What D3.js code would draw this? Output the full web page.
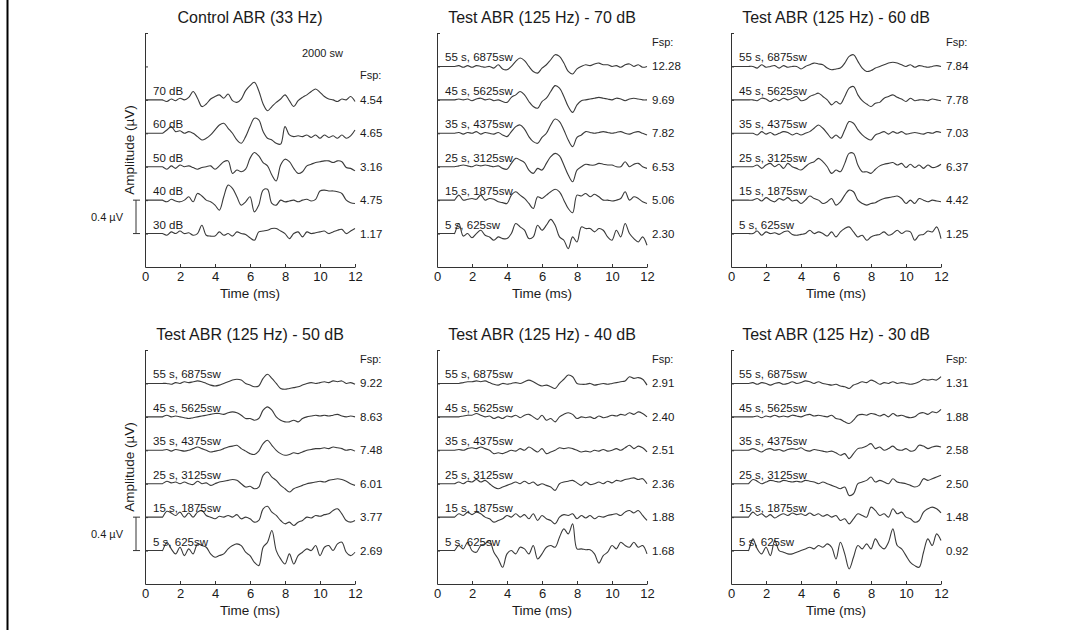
<!DOCTYPE html>
<html>
<head>
<meta charset="utf-8">
<script src="https://cdn.jsdelivr.net/npm/d3@7"></script>
<style>
  body { margin: 0; background: #fff; }
  svg { font-family: "Liberation Sans", Arial, sans-serif; }
</style>
</head>
<body>
<svg id="canvas" width="1073" height="630"></svg>
<script>
// sample times (ms) of every recorded trace, the trace is flat before 1 ms
let sampleTimes = [1, 1.25, 1.5, 1.75, 2, 2.25, 2.5, 2.75, 3, 3.25, 3.5, 3.75,
  4, 4.25, 4.5, 4.75, 5, 5.25, 5.5, 5.75, 6, 6.25, 6.5, 6.75,
  7, 7.25, 7.5, 7.75, 8, 8.25, 8.5, 8.75, 9, 9.25, 9.5, 9.75,
  10, 10.25, 10.5, 10.75, 11, 11.25, 11.5, 11.75, 12];

let xTicks = [0, 2, 4, 6, 8, 10, 12];
let yTicks = [0.4, 0.8, 1.2, 1.6, 2.0, 2.4, 2.8];

let panelTitles = ['Control ABR (33 Hz)', 'Test ABR (125 Hz) - 70 dB', 'Test ABR (125 Hz) - 60 dB',
  'Test ABR (125 Hz) - 50 dB', 'Test ABR (125 Hz) - 40 dB', 'Test ABR (125 Hz) - 30 dB'];

let controlLabels = ['70 dB', '60 dB', '50 dB', '40 dB', '30 dB'];
let testLabels = ['55 s, 6875sw', '45 s, 5625sw', '35 s, 4375sw', '25 s, 3125sw', '15 s, 1875sw', '5 s, 625sw'];

// Fsp values, top trace first
let fspControl = ['4.54', '4.65', '3.16', '4.75', '1.17'];
let fsp70 = ['12.28', '9.69', '7.82', '6.53', '5.06', '2.30'];
let fsp60 = ['7.84', '7.78', '7.03', '6.37', '4.42', '1.25'];
let fsp50 = ['9.22', '8.63', '7.48', '6.01', '3.77', '2.69'];
let fsp40 = ['2.91', '2.40', '2.51', '2.36', '1.88', '1.68'];
let fsp30 = ['1.31', '1.88', '2.58', '2.50', '1.48', '0.92'];

// amplitudes (uV) around each trace's own baseline, one value per sample time
let control33 = [
  [0, -.02, .01, -.01, .02, 0, .03, .10, .02, -.08, -.05, .01,
   .04, .06, .02, .07, -.01, -.03, .01, .11, .17, .21, .11, -.05,
   -.13, -.08, -.03, .01, .06, -.01, -.08, -.01, .03, .06, .10, .13,
   .09, .04, .01, 0, -.02, .01, 0, .04, -.02],
  [0, .04, .08, .02, .03, 0, .02, 0, -.04, -.08, -.06, -.02,
   .04, .10, .12, .06, 0, -.08, -.12, -.04, .08, .18, .16, .02,
   -.06, -.08, -.12, -.13, .08, -.02, -.04, -.03, -.04, -.02, -.05, -.02,
   -.06, -.02, -.05, -.03, -.06, -.02, -.06, -.03, .04],
  [0, -.03, .01, -.02, .02, 0, .01, -.01, -.03, -.01, 0, .01,
   -.03, .01, .06, .07, -.08, -.04, -.06, -.03, .10, .17, .13, .05,
   .01, -.10, -.17, .02, .09, .06, -.02, -.08, -.06, .01, .03, .05,
   .06, .07, .07, .05, .07, .06, -.01, -.02, -.05],
  [0, -.02, .01, -.01, -.02, 0, .04, -.02, .08, .05, 0, -.02,
   -.06, -.12, .04, .18, .14, .04, -.06, -.02, .04, -.14, -.06, .12,
   .13, -.04, -.06, 0, -.02, -.01, 0, -.02, 0, .01, -.01, .01,
   .11, .12, .11, .11, .10, .08, 0, -.03, -.04],
  [0, -.02, .02, 0, .03, 0, .01, -.02, 0, .10, -.02, -.03,
   -.03, .02, -.02, 0, -.03, .02, 0, -.01, -.05, -.08, .02, .03,
   .04, .06, .06, .03, 0, -.06, 0, .02, -.04, .02, 0, .01,
   .02, .03, 0, .02, .04, .05, 0, .03, .06]
];

let test70 = [
  [0, .01, -.01, .01, -.01, .01, 0, -.01, 0, -.02, .02, -.03,
   -.04, 0, .06, .10, .07, 0, -.06, -.08, -.02, .02, .08, .14,
   .12, .04, -.06, -.09, -.03, 0, .02, .01, .03, .04, .02, .02,
   0, .01, -.01, .02, .03, 0, .02, -.01, 0],
  [0, .01, 0, .01, -.01, .01, .02, 0, .01, -.01, 0, -.02,
   -.03, .03, .06, .10, .06, -.02, -.08, -.10, -.02, .02, .10, .17,
   .14, .04, -.08, -.15, -.06, -.01, 0, .01, .02, .03, .02, .01,
   0, .02, .01, -.01, .01, .02, .01, 0, 0],
  [0, .01, -.01, .01, 0, .02, -.01, .01, 0, -.01, .01, -.02,
   -.04, .02, .08, .10, .05, -.04, -.10, -.12, -.05, 0, .10, .17,
   .14, .04, -.08, -.16, -.05, -.02, .02, .01, 0, .01, .02, .01,
   0, .01, .02, 0, -.01, .01, .02, 0, -.02],
  [0, .01, .02, .01, 0, .02, .01, .02, .01, 0, .01, -.02,
   -.03, .04, .10, .08, .05, -.04, -.08, -.02, -.04, .04, .12, .16,
   .13, .02, -.10, -.18, -.04, 0, .03, .02, .02, .04, .03, .02,
   .02, 0, 0, .06, 0, .03, .04, 0, -.02],
  [0, .06, 0, .01, .02, .01, .06, 0, .02, .01, -.02, -.03,
   -.04, .06, .10, .06, .02, -.04, -.10, .04, .02, .06, .10, .13,
   .10, 0, -.10, -.15, .06, .05, .08, .04, .07, .04, 0, 0,
   -.01, 0, .02, .10, 0, .04, .02, -.02, -.04],
  [0, .12, -.03, 0, -.05, 0, .04, -.02, -.04, -.08, -.04, -.06,
   -.06, 0, .12, .08, .04, -.06, -.04, .10, .04, .10, .17, .10,
   -.04, -.08, -.18, -.04, -.10, .08, .06, .06, .02, .06, .04, -.04,
   -.08, .04, -.04, .12, 0, -.06, -.10, -.04, -.14]
];

let test60 = [
  [0, 0, -.02, .02, -.01, 0, .01, -.02, .01, -.01, 0, 0,
   -.03, 0, .02, .04, .03, .02, -.02, -.04, -.03, -.02, .04, .12,
   .14, .06, -.02, -.06, -.05, -.02, 0, .02, .04, .05, .04, .02,
   0, .02, -.01, .01, 0, -.01, 0, .01, 0],
  [0, 0, -.01, .02, .01, -.02, .01, -.01, .02, 0, .02, .04,
   -.01, 0, .04, .06, .08, .04, 0, -.06, -.02, -.05, .04, .14,
   .16, .06, -.01, -.05, -.08, -.04, -.03, .02, .04, .06, .03, .01,
   -.02, .02, -.01, 0, 0, -.01, .01, 0, -.01],
  [0, 0, -.02, .02, -.01, .01, -.02, 0, .02, .01, -.02, 0,
   -.02, 0, .02, .06, .10, .06, 0, -.06, -.02, -.06, .04, .14,
   .12, .04, -.02, -.06, -.08, -.02, 0, .02, -.01, .02, 0, .02,
   -.01, 0, .01, 0, -.01, .01, 0, .02, .01],
  [0, 0, .02, -.02, .02, .04, 0, .03, -.02, .04, 0, -.02,
   -.04, 0, .04, .06, .10, .06, 0, -.08, -.04, -.06, .04, .16,
   .16, .02, -.06, -.06, -.08, -.03, .01, .03, .04, .05, .02, .04,
   -.01, .03, -.01, .02, -.02, .02, -.01, 0, .03],
  [0, 0, .02, -.01, .03, 0, -.02, .02, 0, .03, -.01, 0,
   -.04, 0, .05, .02, 0, -.04, -.02, .02, -.06, -.02, .06, .12,
   .10, 0, -.04, -.06, -.04, -.03, 0, .02, .03, .04, .05, .02,
   -.04, 0, -.04, .02, 0, -.02, 0, -.01, -.02],
  [0, 0, .03, -.02, .02, 0, .01, -.01, .02, .03, -.01, -.02,
   -.01, 0, .04, 0, .02, 0, -.03, .02, -.04, .02, .06, .08,
   .02, -.04, -.02, -.08, -.04, -.02, -.01, .02, -.02, 0, .04, 0,
   .03, .02, -.08, -.02, -.01, .03, .02, .08, -.06]
];

let test50 = [
  [0, 0, -.01, .01, 0, .02, .01, .02, .03, .02, 0, -.02,
   -.03, -.02, 0, .02, .04, .05, .04, 0, -.02, -.04, -.03, .06,
   .11, .06, 0, -.06, -.07, -.06, -.05, -.04, -.02, 0, .01, 0,
   .01, .02, .01, .03, .02, .03, 0, .01, -.01],
  [0, .02, 0, .01, 0, -.01, -.02, -.01, 0, .01, .02, .03,
   .04, .04, .03, .05, .06, .05, .02, -.02, -.02, -.04, -.02, .08,
   .12, .08, 0, -.04, -.06, -.06, -.04, -.06, -.02, 0, .01, .02,
   .01, .02, .01, .02, .03, .01, 0, .01, 0],
  [0, .01, -.01, .01, 0, -.01, 0, .02, .04, .02, 0, -.02,
   -.01, 0, .02, .04, .05, .06, .02, -.01, -.04, -.05, -.01, .08,
   .12, .06, 0, -.04, -.06, -.05, -.03, -.04, -.02, 0, .01, .02,
   .02, .03, .02, .04, .03, .02, 0, .01, -.01],
  [0, .03, .01, .02, 0, .02, 0, -.01, .03, 0, .01, -.02,
   0, .02, .03, .04, .05, .04, 0, -.04, -.03, -.06, -.04, .10,
   .14, .08, .04, -.02, -.06, -.10, -.06, -.04, -.02, 0, .01, .02,
   .03, .02, .04, .05, .06, .05, .03, 0, -.02],
  [0, .07, .05, .02, .06, 0, .05, 0, .06, .08, .02, 0,
   -.02, .01, 0, .02, 0, .03, -.02, 0, -.02, -.06, -.04, .10,
   .13, .06, .02, -.04, -.08, -.06, -.10, -.06, -.04, 0, -.01, .02,
   .01, .03, .04, .08, .10, .04, -.04, -.06, -.04],
  [0, .10, .02, -.04, .04, -.06, .02, -.04, .08, .06, .04, -.04,
   -.08, -.06, -.04, .02, .06, .08, .06, -.02, -.06, -.14, -.18, .04,
   .10, .24, 0, -.10, -.16, -.04, -.16, -.06, -.02, .02, 0, .06,
   -.06, .04, .06, 0, .08, .10, -.02, -.06, -.02]
];

let test40 = [
  [0, 0, .01, .02, .02, .03, .02, .03, .01, -.01, -.02, 0,
   -.01, 0, .01, 0, .02, .04, .02, -.01, -.03, -.02, -.04, -.06,
   0, .05, .10, .08, 0, -.01, -.01, 0, -.02, -.01, 0, -.01,
   0, .01, .02, .03, .08, .06, .07, .05, -.02],
  [0, 0, .01, .02, .02, .04, .02, 0, .01, -.02, 0, -.02,
   .01, 0, .02, -.01, .02, .03, 0, -.03, .02, -.04, -.02, -.06,
   0, .03, .05, .03, -.02, 0, -.01, 0, -.02, .01, -.01, 0,
   .02, .01, .03, .02, .05, .03, .06, .04, 0],
  [0, .01, 0, .02, .03, .02, .04, .02, 0, -.04, -.03, -.04,
   -.02, 0, -.01, .02, 0, .04, .01, -.02, .02, -.04, -.02, 0,
   .03, .02, .03, .02, 0, -.02, -.01, -.02, 0, -.01, .01, -.01,
   0, .02, 0, .03, .06, .02, .05, .03, -.02],
  [0, .02, 0, .03, .02, .05, .02, .04, 0, -.04, -.06, -.04,
   -.02, 0, .02, 0, .03, 0, .02, -.02, 0, -.02, -.04, -.08,
   0, .02, .03, .04, .01, -.02, .02, -.01, 0, .02, 0, .03,
   .01, .04, .03, .05, .06, .07, .05, .06, 0],
  [0, .04, .02, .06, .03, .06, .04, 0, -.02, -.06, -.04, -.02,
   .02, 0, .04, 0, .03, -.02, .04, -.04, .02, -.02, -.04, -.08,
   0, .03, .02, .04, -.02, .02, -.01, .02, -.02, .01, 0, .02,
   .03, .04, .02, .06, .08, .05, .08, .02, -.04],
  [0, .06, .02, .10, 0, -.02, .06, .08, .12, -.02, -.10, -.20,
   -.04, 0, -.04, .04, .02, -.04, .06, -.10, -.04, .04, .06, .04,
   .16, .26, .20, .32, .02, .02, .01, .01, -.04, -.15, -.06, -.02,
   .06, .02, .10, .06, .04, .10, .04, .06, -.04]
];

let test30 = [
  [0, .01, -.01, .01, 0, -.02, 0, .01, -.01, 0, .02, 0,
   .01, .03, .02, 0, .02, 0, -.01, -.02, -.01, -.03, -.04, -.06,
   -.02, 0, .02, .01, .04, .02, -.01, .01, 0, .02, 0, .01,
   0, -.01, 0, .02, .05, .04, .05, .04, .08],
  [0, 0, .01, -.01, .01, 0, .02, 0, .01, 0, .02, .01,
   0, .02, .03, .01, .02, .01, 0, .02, -.02, -.03, -.06, -.08,
   -.04, .02, .03, .02, .04, .03, .01, .03, 0, .04, .01, .02,
   0, -.01, 0, .04, .05, .03, .06, .05, .09],
  [0, .02, 0, -.02, .01, .02, 0, .01, -.01, .01, .02, .01,
   .03, 0, -.01, .01, 0, -.01, -.02, -.01, -.03, -.06, -.04, -.10,
   -.04, .02, .03, .05, .08, .02, .04, 0, .02, .05, .01, 0,
   .02, -.01, 0, .06, .05, .02, .04, .05, .04],
  [0, .05, .03, 0, .02, .04, .03, .02, .04, .03, .02, .03,
   .02, .04, .03, .02, 0, .02, 0, -.02, -.04, -.06, -.04, -.14,
   -.12, 0, .02, .04, .08, .02, .04, .02, 0, .06, .02, .01,
   0, -.02, -.04, -.02, .06, .04, .06, .08, .10],
  [0, .06, .02, .04, 0, .03, -.01, .02, .04, .02, .05, .03,
   .04, .02, .05, .02, .04, .01, .03, 0, .02, -.04, -.02, -.08,
   -.02, .04, .02, 0, .12, .08, .02, .04, 0, .10, .04, .06,
   0, -.02, -.06, -.04, .06, .10, .12, .10, .05],
  [0, .14, .02, -.04, .04, -.06, .12, 0, -.02, -.04, -.04, -.02,
   0, .02, .04, .02, .06, .04, .08, .04, -.10, .10, -.04, -.22,
   -.08, .06, .02, .08, .02, .14, .06, .02, .10, .26, .06, .02,
   -.06, -.14, -.18, -.20, -.02, .14, .06, .20, .12]
];

let panels = [
  {title: panelTitles[0], labels: controlLabels, fsp: fspControl, traces: control33},
  {title: panelTitles[1], labels: testLabels, fsp: fsp70, traces: test70},
  {title: panelTitles[2], labels: testLabels, fsp: fsp60, traces: test60},
  {title: panelTitles[3], labels: testLabels, fsp: fsp50, traces: test50},
  {title: panelTitles[4], labels: testLabels, fsp: fsp40, traces: test40},
  {title: panelTitles[5], labels: testLabels, fsp: fsp30, traces: test30}
];

let canvas = d3.select('#canvas');
let colX = [145, 437, 731];
let rowY = [33, 350];
let plotW = 210, plotH = 234;
let ink = '#1a1a1a';

canvas.append('rect').attr('width', 1073).attr('height', 630).attr('fill', '#fff');
// left frame line
canvas.append('rect').attr('x', 6.5).attr('y', 0).attr('width', 2).attr('height', 630).attr('fill', '#000');

panels.forEach((p, i) => {
  let col = i % 3, row = Math.floor(i / 3);
  let g = canvas.append('g').attr('transform', 'translate(' + colX[col] + ',' + rowY[row] + ')');
  let x = d3.scaleLinear().domain([0, 12]).range([0, plotW]);
  let y = d3.scaleLinear().domain([0, 2.8]).range([plotH, 0]);

  //axes
  let xAxis = g.append('g').attr('transform', 'translate(0,' + plotH + ')')
    .call(d3.axisBottom(x).tickValues(xTicks).tickSizeInner(-3).tickSizeOuter(0).tickPadding(5));
  let yAxis = g.append('g')
    .call(d3.axisLeft(y).tickValues(yTicks).tickSizeInner(-3).tickSizeOuter(0).tickFormat(''));
  [xAxis, yAxis].forEach(a => {
    a.selectAll('path, line').attr('stroke', '#333');
    a.selectAll('text').attr('fill', ink).style('font-size', '13px').style('font-family', 'Liberation Sans, Arial, sans-serif');
  });

  g.append('text').attr('x', plotW / 2).attr('y', -10).attr('text-anchor', 'middle')
    .style('font-size', '16px').attr('fill', ink).text(p.title);
  g.append('text').attr('x', plotW / 2).attr('y', plotH + 31).attr('text-anchor', 'middle')
    .style('font-size', '13.5px').attr('fill', ink).text('Time (ms)');

  //traces, top trace first
  let n = p.traces.length;
  let line = d3.line().x(d => x(d[0])).y(d => y(d[1])).curve(d3.curveCatmullRom.alpha(0.5));
  p.traces.forEach((vals, k) => {
    let base = 0.4 * (n - k);
    let pts = [[0, base], [0.98, base]].concat(d3.zip(sampleTimes, vals).map(d => [d[0], base + d[1]]));
    g.append('path').datum(pts).attr('d', line)
      .attr('fill', 'none').attr('stroke', '#3a3a3a').attr('stroke-width', 1.1)
      .attr('stroke-linejoin', 'round');
    g.append('text').attr('x', x(0) + 8).attr('y', y(base) - 5)
      .style('font-size', '11.5px').attr('fill', ink).text(p.labels[k]);
    g.append('text').attr('x', plotW + 5).attr('y', y(base) + 4)
      .style('font-size', '11.5px').attr('fill', ink).text(p.fsp[k]);
  });

  g.append('text').attr('x', plotW + 5).attr('y', i === 0 ? 46 : 13)
    .style('font-size', '11px').attr('fill', ink).text('Fsp:');
  if (i === 0) {
    g.append('text').attr('x', 157).attr('y', 24)
      .style('font-size', '11px').attr('fill', ink).text('2000 sw');
  }

  //amplitude label and 0.4 uV scale bar on the first column
  if (col === 0) {
    g.append('text').attr('transform', 'translate(-16,' + (plotH / 2) + ') rotate(-90)')
      .attr('text-anchor', 'middle').attr('dominant-baseline', 'central')
      .style('font-size', '13.5px').attr('fill', ink).text('Amplitude (\u00b5V)');
    let bar = g.append('g').attr('stroke', '#333').attr('stroke-width', 1);
    bar.append('line').attr('x1', -9).attr('x2', -9).attr('y1', y(0.8)).attr('y2', y(0.4));
    bar.append('line').attr('x1', -12).attr('x2', -5).attr('y1', y(0.8)).attr('y2', y(0.8));
    bar.append('line').attr('x1', -12).attr('x2', -5).attr('y1', y(0.4)).attr('y2', y(0.4));
    g.append('text').attr('x', -22).attr('y', y(0.6) + 4).attr('text-anchor', 'end')
      .style('font-size', '11px').attr('fill', ink).text('0.4 \u00b5V');
  }
});
</script>
</body>
</html>
